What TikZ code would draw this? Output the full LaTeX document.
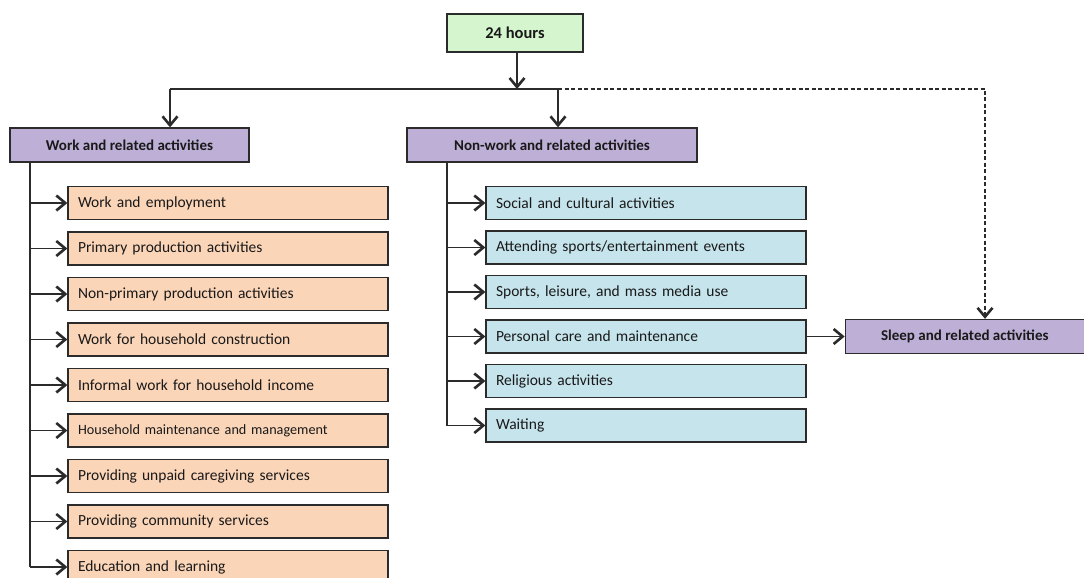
\documentclass[tikz,border=0pt]{standalone}
\usepackage{fontspec}
\setmainfont{Carlito}
\usepackage{tikz}
\usepackage{xcolor}
\usetikzlibrary{positioning,arrows.meta}

\definecolor{topgreen}{HTML}{D4F5CD}
\definecolor{headpurple}{HTML}{BDAFD6}
\definecolor{workorange}{HTML}{FBD5B8}
\definecolor{nonworkblue}{HTML}{C6E4EC}
\definecolor{edgegray}{HTML}{2B2B2B}

\begin{document}
\begin{tikzpicture}[
    x=1pt, y=-1pt,
    node distance=45.5pt,
    >={Straight Barb[length=9pt, width=15pt, line width=2.6pt]},
    block/.style={draw=edgegray, line width=1.3pt, rectangle, minimum height=33pt, inner sep=0pt, text=black!90, font=\fontsize{15.5}{18}\selectfont},
    topblock/.style={block, fill=topgreen, minimum width=136pt, minimum height=38pt, font=\bfseries\fontsize{16.5}{19}\selectfont},
    headblock/.style={block, fill=headpurple, minimum height=34pt, font=\bfseries\fontsize{15}{18}\selectfont},
    workblock/.style={block, fill=workorange, text width=300pt, inner xsep=10pt, align=left},
    nonworkblock/.style={block, fill=nonworkblue, text width=300pt, inner xsep=10pt, align=left},
    line/.style={line width=1.8pt, draw=edgegray},
    arrow/.style={->, line}
]
\useasboundingbox (0,0) rectangle (1084,578);

\node[topblock] (h24) at (515,33) {24 hours};
\node[headblock, minimum width=239pt] (work) at (129.5,145) {Work and related activities};
\node[headblock, minimum width=290pt] (nonwork) at (552,145) {Non-work and related activities};

% work side
\node[workblock] (w1) at (228,203) {Work and employment};
\node[workblock, below of=w1] (w2) {Primary production activities};
\node[workblock, below of=w2] (w3) {Non-primary production activities};
\node[workblock, below of=w3] (w4) {Work for household construction};
\node[workblock, below of=w4] (w5) {Informal work for household income};
\node[workblock, below of=w5, font=\fontsize{14.2}{16}\selectfont] (w6) {Household maintenance and management};
\node[workblock, below of=w6] (w7) {Providing unpaid caregiving services};
\node[workblock, below of=w7] (w8) {Providing community services};
\node[workblock, below of=w8] (w9) {Education and learning};

% non-work side
\node[nonworkblock] (n1) at (646,203) {Social and cultural activities};
\node[nonworkblock, node distance=44.5pt, below of=n1] (n2) {Attending sports/entertainment events};
\node[nonworkblock, node distance=44.5pt, below of=n2] (n3) {Sports, leisure, and mass media use};
\node[nonworkblock, node distance=44.5pt, below of=n3] (n4) {Personal care and maintenance};
\node[nonworkblock, node distance=44.5pt, below of=n4] (n5) {Religious activities};
\node[nonworkblock, node distance=44.5pt, below of=n5] (n6) {Waiting};

\node[headblock, minimum width=239pt, right=38pt of n4] (sleep) {Sleep and related activities};

\coordinate (bus) at (517,89);
\coordinate (busL) at (170,89);
\coordinate (busR) at (558,89);
\coordinate (busE) at (985,89);
\coordinate (wtrunk) at (30,0);
\coordinate (ntrunk) at (447,0);

\draw[arrow] (bus |- h24.south) -- (bus);
\draw[line] (busL) -- (busR);
\draw[arrow] (busL) -- (busL |- work.north);
\draw[arrow] (busR) -- (busR |- nonwork.north);
\draw[arrow, line width=1.5pt, dash pattern=on 4pt off 2.5pt] (busR) -- (busE) -- (busE |- sleep.north);

\draw[line] (wtrunk |- work.south) -- (wtrunk |- w9);
\draw[arrow] (wtrunk |- w1) -- (w1.west);
\draw[arrow] (wtrunk |- w2) -- (w2.west);
\draw[arrow] (wtrunk |- w3) -- (w3.west);
\draw[arrow] (wtrunk |- w4) -- (w4.west);
\draw[arrow] (wtrunk |- w5) -- (w5.west);
\draw[arrow] (wtrunk |- w6) -- (w6.west);
\draw[arrow] (wtrunk |- w7) -- (w7.west);
\draw[arrow] (wtrunk |- w8) -- (w8.west);
\draw[arrow] (wtrunk |- w9) -- (w9.west);

\draw[line] (ntrunk |- nonwork.south) -- (ntrunk |- n6);
\draw[arrow] (ntrunk |- n1) -- (n1.west);
\draw[arrow] (ntrunk |- n2) -- (n2.west);
\draw[arrow] (ntrunk |- n3) -- (n3.west);
\draw[arrow] (ntrunk |- n4) -- (n4.west);
\draw[arrow] (ntrunk |- n5) -- (n5.west);
\draw[arrow] (ntrunk |- n6) -- (n6.west);

\draw[arrow] (n4) -- (sleep);
\end{tikzpicture}
\end{document}
